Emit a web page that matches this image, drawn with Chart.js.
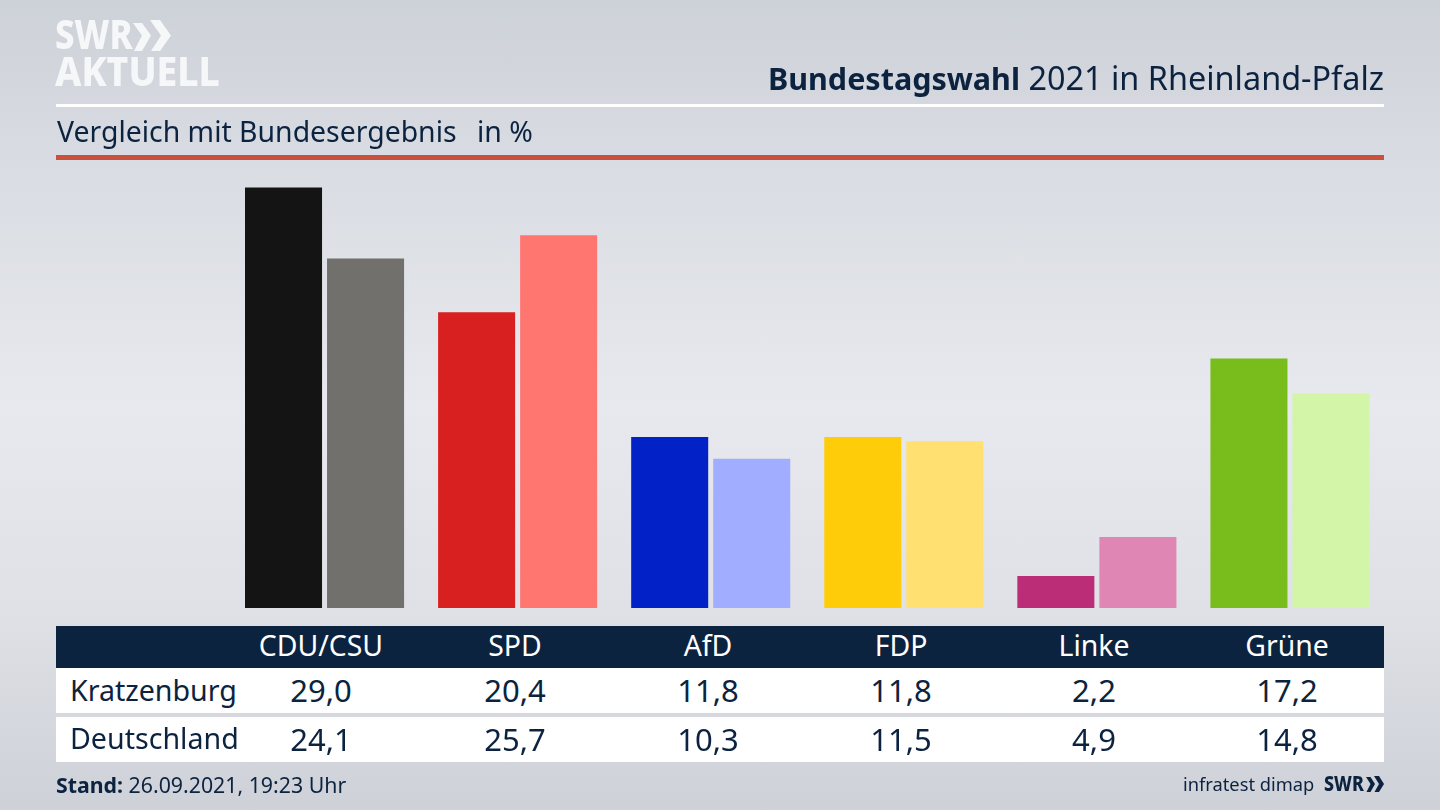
<!DOCTYPE html>
<html lang="de">
<head>
<meta charset="utf-8">
<title>Bundestagswahl 2021 in Rheinland-Pfalz</title>
<script src="https://cdn.jsdelivr.net/npm/chart.js@4"></script>
<style>
html,body{margin:0;padding:0;}
body{width:1440px;height:810px;overflow:hidden;position:relative;font-family:"Noto Sans",sans-serif;color:#0c2340;
  background:linear-gradient(180deg,#cdd1d8 0%,#d9dce2 20%,#e7e9ee 50%,#dfe1e6 75%,#ced1d8 100%);}
canvas{position:absolute;left:0;top:0;}
.t{position:absolute;white-space:nowrap;line-height:1;}
.c{transform:translateX(-50%);}
.box{position:absolute;}
.logo{font-weight:800;color:#f6f7f8;font-family:"Noto Sans",sans-serif;transform-origin:left top;}
</style>
</head>
<body>
<canvas id="chart" width="1440" height="810"></canvas>

<div class="t logo" style="left:55px;top:13px;font-size:41px;transform:scaleX(.85);">SWR</div>
<svg class="box" style="left:133px;top:20px;" width="38" height="31" viewBox="0 0 38 31"><path fill="#f6f7f8" d="M0 3h9l9 12.500L9 31H1l8-15.500zM17 0h10l11 15.500L27 31h-9l10-15.500z"/></svg>
<div class="t logo" style="left:55px;top:50px;font-size:41px;transform:scaleX(.91);">AKTUELL</div>

<div class="t" style="right:56px;top:61px;font-size:32.4px;"><b style="font-size:30.5px;">Bundestagswahl</b> 2021 in Rheinland-Pfalz</div>
<div class="box" style="left:56px;top:104px;width:1328px;height:3px;background:#fff;"></div>
<div class="t" style="left:57px;top:117px;font-size:28.4px;">Vergleich mit Bundesergebnis</div>
<div class="t" style="left:477px;top:117px;font-size:28.4px;">in %</div>
<div class="box" style="left:56px;top:155px;width:1328px;height:5px;background:#c9503d;"></div>

<div class="box" style="left:56px;top:626px;width:1328px;height:42px;background:#0c2340;"></div>
<div class="box" style="left:56px;top:668px;width:1328px;height:45px;background:#fff;"></div>
<div class="box" style="left:56px;top:717px;width:1328px;height:45px;background:#fff;"></div>
<div id="table"></div>

<div class="t" style="left:56px;top:774px;font-size:21.3px;"><b>Stand:</b> 26.09.2021, 19:23 Uhr</div>
<div class="t" style="left:1183px;top:775px;font-size:18.300px;">infratest dimap</div>
<div class="t" style="left:1324px;top:773px;font-size:21px;font-weight:800;transform:scaleX(.85);transform-origin:left top;">SWR</div>
<svg class="box" style="left:1366px;top:776px;" width="18" height="16" viewBox="0 0 18 16"><path fill="#0c2340" d="M0 1h4.500l4.500 7-4.500 8H.500l4-8zM8 0h5l5 8-5 8H8.500l4.500-8z"/></svg>

<script>
// Werte
const parties = ['CDU/CSU','SPD','AfD','FDP','Linke','Grüne'];
const kratzenburg = [29.0,20.4,11.8,11.8,2.2,17.2];
const deutschland = [24.1,25.7,10.3,11.5,4.9,14.8];
const rowNames = ['Kratzenburg','Deutschland'];
const colorsKratzenburg = ['#141414','#d7201f','#0222c8','#ffcc0a','#bc2d77','#78bd1c'];
const colorsDeutschland = ['#72706c','#ff7570','#a1aeff','#ffe070','#e086b5','#d3f5a8'];

const fmt = v => v.toFixed(1).replace('.', ',');

// Tabelle unter dem Chart
const colX = [321,515,708,901,1094,1287];
const table = document.getElementById('table');
let html = '';
parties.forEach((p,i) => {
  html += `<div class="t c" style="left:${colX[i]}px;top:631px;font-size:28.4px;color:#fff;">${p}</div>`;
  html += `<div class="t c" style="left:${colX[i]}px;top:675px;font-size:31px;">${fmt(kratzenburg[i])}</div>`;
  html += `<div class="t c" style="left:${colX[i]}px;top:724px;font-size:31px;">${fmt(deutschland[i])}</div>`;
});
rowNames.forEach((n,i) => {
  html += `<div class="t" style="left:70px;top:${i ? 724 : 676}px;font-size:28.6px;">${n}</div>`;
});
table.innerHTML = html;

new Chart(document.getElementById('chart'), {
  type: 'bar',
  data: {
    labels: parties,
    datasets: [
      { label: rowNames[0], data: kratzenburg, backgroundColor: colorsKratzenburg },
      { label: rowNames[1], data: deutschland, backgroundColor: colorsDeutschland }
    ]
  },
  options: {
    responsive: false,
    animation: false,
    layout: { padding: { left: 228, right: 53.5, top: 173, bottom: 202 } },
    datasets: { bar: { categoryPercentage: 164/193, barPercentage: 77/82 } },
    plugins: { legend: { display: false }, tooltip: { enabled: false } },
    scales: {
      x: { display: false },
      y: { display: false, min: 0, max: 30 }
    }
  }
});
</script>
</body>
</html>
